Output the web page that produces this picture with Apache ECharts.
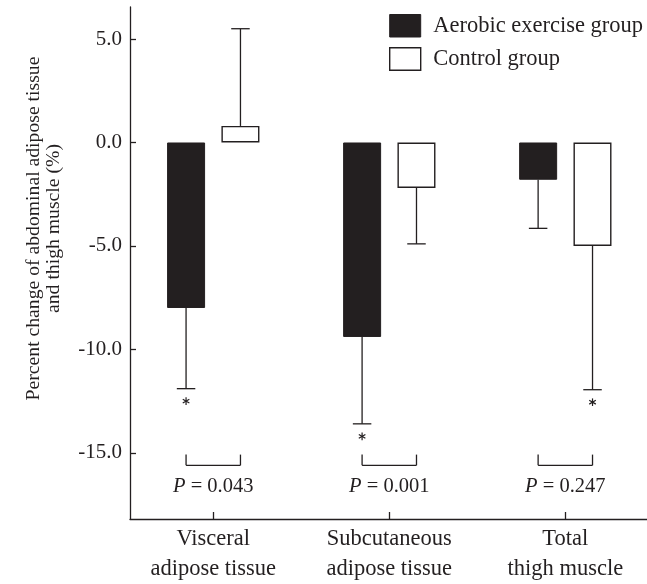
<!DOCTYPE html>
<html>
<head>
<meta charset="utf-8">
<script src="https://cdn.jsdelivr.net/npm/echarts@6/dist/echarts.min.js"></script>
<style>html,body{margin:0;padding:0;background:#fff}#c{width:647px;height:584px}</style>
</head>
<body>
<div id="c"></div>
<script>
// ---- data ----
const categories = ['Visceral\nadipose tissue', 'Subcutaneous\nadipose tissue', 'Total\nthigh muscle'];
const aerobicMean = [-8.0, -9.4, -1.8];
const aerobicSD = [3.9, 4.2, 2.35];
const controlMean = [0.8, -2.2, -5.0];
const controlSD = [4.7, 2.7, 6.95];
const aerobicStar = [1, 1, 0];
const controlStar = [0, 0, 1];
const pValues = ['0.043', '0.001', '0.247'];
const yTicks = [5, 0, -5, -10, -15];
const seriesNames = ['Aerobic exercise group', 'Control group'];

const Y_MIN = -18.2, Y_MAX = 6.55;
const INK = '#231f20';
const FONT = 'Liberation Serif';
const HALF = 27.2; // half distance between bar centers in a group (px)

const chart = echarts.init(document.getElementById('c'));

const errData = [];
categories.forEach((c, i) => {
  errData.push([i, aerobicMean[i], aerobicSD[i], 0, aerobicStar[i]]);
  errData.push([i, controlMean[i], controlSD[i], 1, controlStar[i]]);
});

function lineEl(x1, y1, x2, y2, w) {
  return { type: 'line', shape: { x1, y1, x2, y2 }, style: { stroke: INK, lineWidth: w || 1.3 } };
}

function renderErr(params, api) {
  const x = api.value(0), m = api.value(1), sd = api.value(2), g = api.value(3), star = api.value(4);
  const off = g === 0 ? -HALF : HALF;
  const end = m >= 0 ? m + sd : m - sd;
  const p0 = api.coord([x, m]);
  const p1 = api.coord([x, end]);
  const cx = p0[0] + off;
  const ch = [lineEl(cx, p0[1], cx, p1[1]), lineEl(cx - 9.25, p1[1], cx + 9.25, p1[1])];
  if (star) {
    const sy = p1[1] + 12.5, r = 3.8;
    [90, 30, 150].forEach(a => {
      const rad = a * Math.PI / 180;
      ch.push(lineEl(cx - r * Math.cos(rad), sy - r * Math.sin(rad), cx + r * Math.cos(rad), sy + r * Math.sin(rad), 1.2));
    });
  }
  return { type: 'group', children: ch };
}

function renderP(params, api) {
  const x = api.value(0);
  const b = api.coord([x, Y_MIN]);
  const cx = b[0], by = b[1];
  const yTop = by - 64.4, yH = by - 53.7;
  return {
    type: 'group',
    children: [
      lineEl(cx - HALF, yTop, cx - HALF, yH),
      lineEl(cx - HALF, yH, cx + HALF, yH),
      lineEl(cx + HALF, yH, cx + HALF, yTop),
      {
        type: 'text',
        style: {
          x: cx, y: by - 32.4,
          text: '{i|P} = ' + pValues[params.dataIndex],
          rich: { i: { fontStyle: 'italic', fontFamily: FONT, fontSize: 20.5, fill: INK } },
          fontFamily: FONT, fontSize: 20.5, fill: INK,
          align: 'center', verticalAlign: 'middle'
        }
      }
    ]
  };
}

chart.setOption({
  animation: false,
  backgroundColor: '#fff',
  textStyle: { fontFamily: FONT, color: INK },
  grid: { left: 130, right: 0, top: 7, bottom: 62, containLabel: false },
  legend: {
    orient: 'vertical', left: 389, top: 14, padding: 0,
    itemWidth: 31, itemHeight: 22.5, itemGap: 9.5,
    icon: 'rect',
    textStyle: { fontFamily: FONT, fontSize: 22.5, color: INK, padding: [0, 0, 0, 7.5] },
    data: [
      { name: seriesNames[0], itemStyle: { color: INK, borderColor: INK, borderWidth: 1 } },
      { name: seriesNames[1], itemStyle: { color: '#fff', borderColor: INK, borderWidth: 1.4 } }
    ]
  },
  xAxis: {
    type: 'value', min: -0.473, max: 2.464,
    splitLine: { show: false },
    axisLine: { show: true, onZero: false, lineStyle: { color: INK, width: 1.3 } },
    axisTick: { show: true, inside: true, length: 7, customValues: [0, 1, 2], lineStyle: { color: INK, width: 1.3 } },
    axisLabel: {
      show: true, customValues: [0, 1, 2], margin: 5,
      formatter: v => categories[Math.round(v)],
      fontFamily: FONT, fontSize: 22.5, lineHeight: 30, color: INK
    }
  },
  yAxis: {
    type: 'value', min: Y_MIN, max: Y_MAX,
    splitLine: { show: false },
    axisLine: { show: true, onZero: false, lineStyle: { color: INK, width: 1.3 } },
    axisTick: { show: true, inside: true, length: 6, customValues: yTicks, lineStyle: { color: INK, width: 1.3 } },
    axisLabel: {
      show: true, customValues: yTicks, margin: 8,
      formatter: v => v.toFixed(1),
      fontFamily: FONT, fontSize: 21, color: INK
    }
  },
  graphic: [{
    type: 'text', x: 44, y: 228.5, rotation: Math.PI / 2,
    style: {
      text: 'Percent change of abdominal adipose tissue\nand thigh muscle (%)',
      fontFamily: FONT, fontSize: 19.7, lineHeight: 20, fill: INK,
      align: 'center', verticalAlign: 'middle'
    }
  }],
  series: [
    {
      name: seriesNames[0], type: 'bar', barWidth: 38, barGap: '43%',
      itemStyle: { color: INK, borderColor: INK, borderWidth: 1 },
      data: aerobicMean.map((v, i) => [i, v])
    },
    {
      name: seriesNames[1], type: 'bar', barWidth: 38, barGap: '43%',
      itemStyle: { color: '#fff', borderColor: INK, borderWidth: 1.4 },
      data: controlMean.map((v, i) => [i, v])
    },
    {
      type: 'custom', name: 'err', renderItem: renderErr, z: 5,
      encode: { x: 0, y: 1 }, data: errData, silent: true
    },
    {
      type: 'custom', name: 'p', renderItem: renderP, z: 5,
      encode: { x: 0, y: 1 }, data: pValues.map((p, i) => [i, 0]), silent: true
    }
  ]
});
</script>
</body>
</html>
